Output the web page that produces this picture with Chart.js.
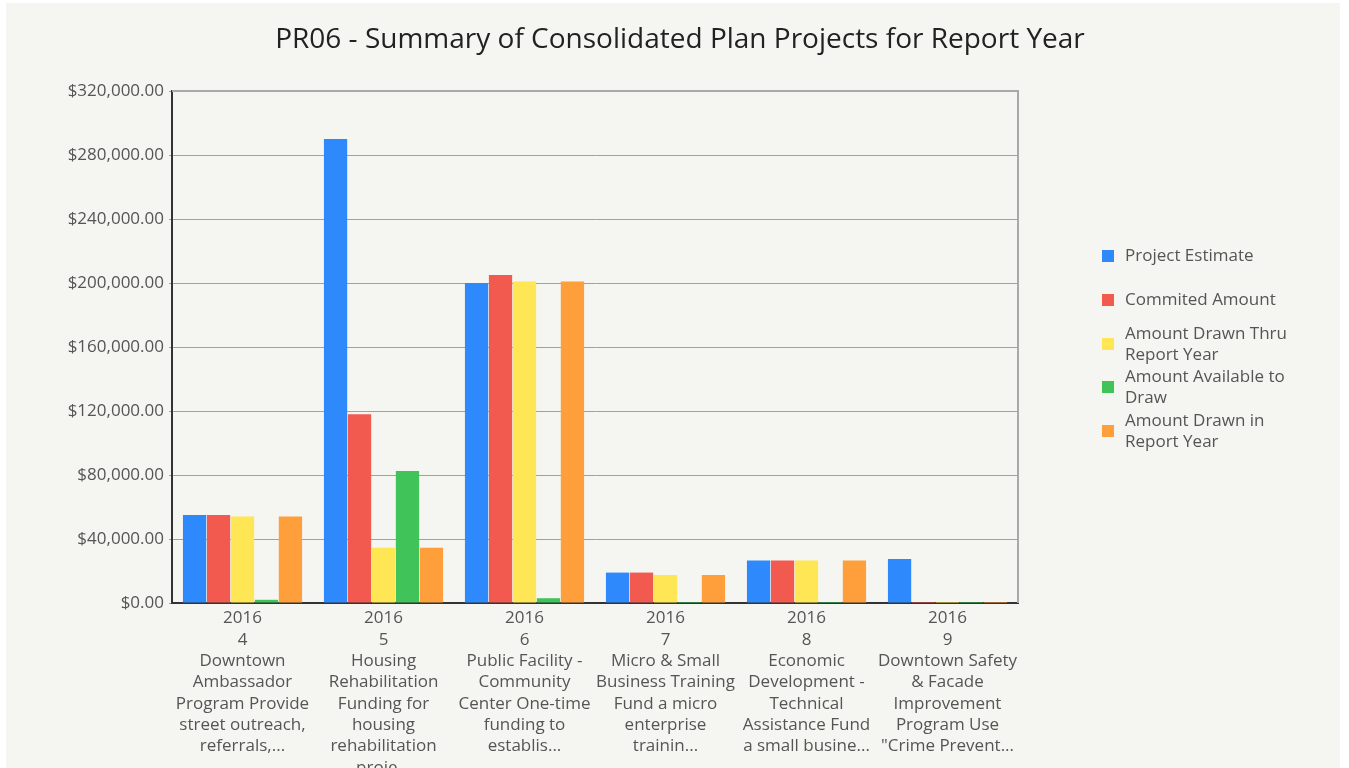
<!DOCTYPE html>
<html>
<head>
<meta charset="utf-8">
<script src="https://cdn.jsdelivr.net/npm/chart.js@4.4.1/dist/chart.umd.min.js"></script>
<style>
  html, body { margin: 0; padding: 0; background: #ffffff; overflow: hidden; }
  #panel { position: absolute; left: 6px; top: 3px; width: 1334px; height: 765px; background: #f5f5f1; }
  #wrap { position: absolute; left: 0; top: 0; width: 1349px; height: 768px; }
  #title { position: absolute; left: 0; width: 1360px; top: 18px; text-align: center;
    font-family: 'Open Sans', sans-serif; font-size: 28px; line-height: 38px; color: #222; }
  #legend { position: absolute; left: 1102px; top: 244px; font-family: 'Open Sans', sans-serif; font-size: 17px; color: #555; }
  .item { position: absolute; left: 0; width: 240px; }
  .item .box { position: absolute; left: 0; width: 12px; height: 12px; }
  .item .txt { position: absolute; left: 23px; line-height: 21px; white-space: nowrap; }
</style>
</head>
<body>
<div id="panel"></div>
<div id="wrap"><canvas id="prChart" width="1349" height="768"></canvas></div>
<div id="title">PR06 - Summary of Consolidated Plan Projects for Report Year</div>
<div id="legend"></div>
<script>
const categories = [
  ['2016', '4', 'Downtown', 'Ambassador', 'Program Provide', 'street outreach,', 'referrals,...'],
  ['2016', '5', 'Housing', 'Rehabilitation', 'Funding for', 'housing', 'rehabilitation', 'proje...'],
  ['2016', '6', 'Public Facility -', 'Community', 'Center One-time', 'funding to', 'establis...'],
  ['2016', '7', 'Micro & Small', 'Business Training', 'Fund a micro', 'enterprise', 'trainin...'],
  ['2016', '8', 'Economic', 'Development -', 'Technical', 'Assistance Fund', 'a small busine...'],
  ['2016', '9', 'Downtown Safety', '& Facade', 'Improvement', 'Program Use', '"Crime Prevent...']
];
const projectEstimate = [55000, 290000, 200000, 19000, 26500, 27500];
const commitedAmount = [55000, 118000, 205000, 19000, 26500, 0];
const drawnThruYear = [54000, 34500, 201000, 17500, 26500, 0];
const availableToDraw = [2000, 82500, 3000, 600, 0, 0];
const drawnInYear = [54000, 34500, 201000, 17500, 26500, 0];
const yTicks = [0, 40000, 80000, 120000, 160000, 200000, 240000, 280000, 320000];

const seriesNames = [['Project Estimate'], ['Commited Amount'], ['Amount Drawn Thru', 'Report Year'],
  ['Amount Available to', 'Draw'], ['Amount Drawn in', 'Report Year']];
const seriesColors = ['#2e89fc', '#f25a50', '#fee655', '#40c45a', '#fe9f3b'];
const seriesData = [projectEstimate, commitedAmount, drawnThruYear, availableToDraw, drawnInYear];

const fmt = v => '$' + v.toLocaleString('en-US', { minimumFractionDigits: 2, maximumFractionDigits: 2 });

// right + top frame of the plot area
const frameLines = {
  id: 'frameLines',
  afterDatasetsDraw(chart) {
    const a = chart.chartArea, ctx = chart.ctx;
    ctx.save();
    ctx.strokeStyle = '#a8a8a8';
    ctx.lineWidth = 2;
    ctx.beginPath();
    ctx.moveTo(a.left, a.top);
    ctx.lineTo(a.right, a.top);
    ctx.lineTo(a.right, a.bottom);
    ctx.stroke();
    ctx.restore();
  }
};

const ctx = document.getElementById('prChart').getContext('2d');
new Chart(ctx, {
  type: 'bar',
  data: {
    labels: categories,
    datasets: seriesData.map((d, i) => ({
      label: seriesNames[i].join(' '),
      data: d,
      backgroundColor: seriesColors[i],
      borderWidth: 0,
      minBarLength: 1
    }))
  },
  plugins: [frameLines],
  options: {
    responsive: false,
    animation: false,
    layout: { padding: { left: 0, right: 331, top: 91, bottom: 0 } },
    datasets: { bar: { categoryPercentage: 0.85, barPercentage: 0.97 } },
    plugins: {
      legend: { display: false },
      tooltip: { enabled: false },
      title: { display: false }
    },
    scales: {
      x: {
        afterFit(scale) { scale.height = 165; },
        grid: { display: false },
        border: { color: '#333', width: 2 },
        ticks: {
          color: '#555',
          padding: -3,
          maxRotation: 0,
          autoSkip: false,
          font: { family: "'Open Sans', sans-serif", size: 17, lineHeight: '21.3px' }
        }
      },
      y: {
        min: 0,
        max: 320000,
        afterFit(scale) { scale.width = 172; },
        afterBuildTicks(scale) { scale.ticks = yTicks.map(v => ({ value: v })); },
        grid: { color: '#a0a0a0', lineWidth: 1, tickLength: 3 },
        border: { color: '#333', width: 2 },
        ticks: {
          color: '#555',
          padding: 5,
          font: { family: "'Open Sans', sans-serif", size: 17 },
          callback: v => fmt(v)
        }
      }
    }
  }
});

// legend as html, multi-line names
const legendEl = document.getElementById('legend');
const itemTops = [0, 44, 78, 121, 165];
seriesNames.forEach((lines, i) => {
  const item = document.createElement('div');
  item.className = 'item';
  item.style.top = itemTops[i] + 'px';
  const h = lines.length * 21;
  const box = document.createElement('div');
  box.className = 'box';
  box.style.background = seriesColors[i];
  box.style.top = (h / 2 - 6 + 1) + 'px';
  const txt = document.createElement('div');
  txt.className = 'txt';
  txt.innerHTML = lines.join('<br>');
  item.appendChild(box);
  item.appendChild(txt);
  legendEl.appendChild(item);
});
</script>
</body>
</html>
